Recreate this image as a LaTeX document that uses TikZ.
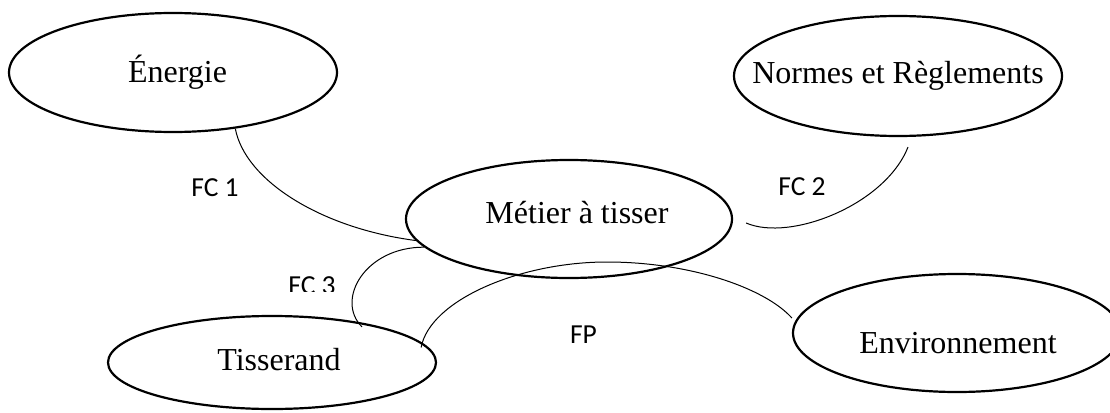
\documentclass[tikz,border=0pt]{standalone}
\usepackage{fontspec}
\setmainfont{Liberation Serif}
\newfontfamily\calibrifont{Carlito}
\usetikzlibrary{shapes.geometric,calc}
% centred label text, shifted right by half of #1, without widening the oval
\newcommand\ovaltext[2]{\makebox[0pt]{\hspace*{#1}#2}}

\begin{document}
\begin{tikzpicture}[x=1pt,y=-1pt,
  oval/.style={draw, ellipse, line width=2.2pt, minimum width=328pt,
    minimum height=119pt, inner sep=0pt, text depth=0pt,
    font=\fontsize{32}{38}\selectfont},
  link/.style={line width=1pt},
  fclabel/.style={anchor=base, inner sep=0pt,
    font=\calibrifont\fontsize{27.5}{33}\selectfont}]
\useasboundingbox (0,0) rectangle (1110,412);

% the system and its surroundings
\node[oval, text height=19pt] (en) at (173,72.5) {\ovaltext{9pt}{Énergie}};
\node[oval, minimum height=120pt, text height=14pt] (no) at (898,76) {\ovaltext{0pt}{Normes et Règlements}};
\node[oval, minimum width=326pt, minimum height=118pt, text height=8pt] (met) at (569,219) {\ovaltext{16pt}{Métier à tisser}};
\node[oval, minimum height=93pt, text height=15pt] (tis) at (272,362.5) {\ovaltext{14pt}{Tisserand}};
\node[oval, minimum height=118pt, text height=40pt] (env) at (957,333) {\ovaltext{2pt}{Environnement}};

% function labels
\node[fclabel] (fc1) at (215,196.7) {FC 1};
\node[fclabel] (fc2) at (802,195) {FC 2};
\begin{scope}
  \clip (250,250) rectangle (400,291.5);
  \node[fclabel] (fc3) at (312,294) {FC 3};
\end{scope}
\node[fclabel] (fp) at (583.5,343) {FP};

% function links
\draw[link] (en.-42) .. controls (245,180) and (320,228) .. (met.188);
\draw[link] ($(met.east)+(13,4)$) .. controls (790,242) and (885,205) .. ($(no.south)+(10,10)$);
\draw[link] (met.191) .. controls (365,247) and (335,300) .. ($(tis.north)+(90,12)$);
\draw[link] ($(tis.east)+(-16,-15)$) .. controls (430,300) and (520,262) .. (607,262)
  .. controls (690,262) and (765,288) .. ($(env.west)+(0,-15)$);
\end{tikzpicture}
\end{document}
